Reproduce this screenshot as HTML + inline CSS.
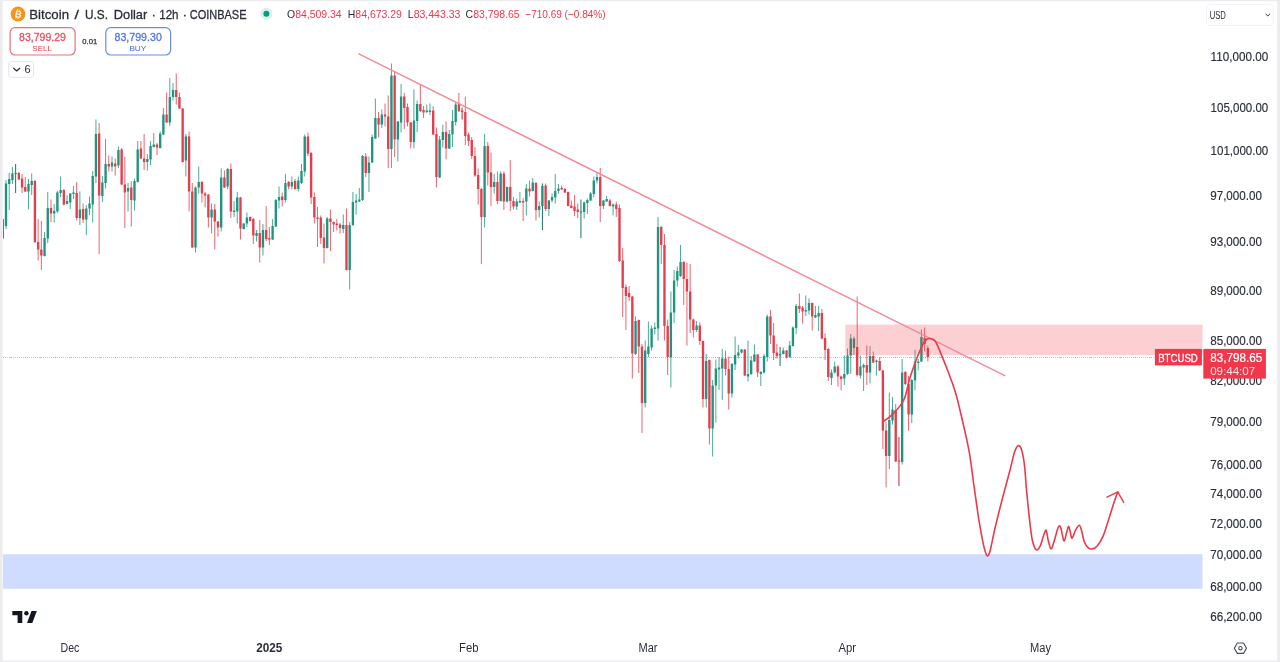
<!DOCTYPE html>
<html><head><meta charset="utf-8"><title>BTCUSD chart</title>
<style>
html,body{margin:0;padding:0;background:#fff;}
body{width:1280px;height:662px;overflow:hidden;position:relative;font-family:"Liberation Sans",sans-serif;}
svg{position:absolute;left:0;top:0;display:block}
text{font-family:"Liberation Sans",sans-serif;}
</style></head><body>
<svg width="1280" height="662" viewBox="0 0 1280 662">
<defs><clipPath id="pane"><rect x="3" y="0" width="1200" height="640"/></clipPath><filter id="nf" x="0" y="0" width="1280" height="662" filterUnits="userSpaceOnUse"><feOffset dx="0" dy="0"/></filter></defs>
<rect x="0" y="0" width="1280" height="662" fill="#ffffff"/>
<g filter="url(#nf)">
<!-- zones -->
<rect x="3" y="554.2" width="1199.5" height="34.6" fill="#d0dcfd"/>
<!-- price line -->
<line x1="3" y1="357.5" x2="1155" y2="357.5" stroke="#e0606e" stroke-width="1" stroke-dasharray="1 1" stroke-opacity="0.48"/>
<line x1="10" y1="357.5" x2="1155" y2="357.5" stroke="#b04050" stroke-width="1" stroke-dasharray="1.2 13.8" stroke-opacity="0.45"/>
<g clip-path="url(#pane)">
<g stroke-width="1">
<line x1="2.79" y1="219.0" x2="2.79" y2="238.5" stroke="#1f957f" stroke-opacity="0.8"/>
<line x1="6.00" y1="180.0" x2="6.00" y2="229.0" stroke="#1f957f" stroke-opacity="0.8"/>
<line x1="9.21" y1="173.0" x2="9.21" y2="210.0" stroke="#1f957f" stroke-opacity="0.8"/>
<line x1="12.42" y1="167.0" x2="12.42" y2="184.0" stroke="#1f957f" stroke-opacity="0.8"/>
<line x1="15.64" y1="164.0" x2="15.64" y2="193.0" stroke="#0b6b5b" stroke-opacity="0.95"/>
<line x1="18.85" y1="172.0" x2="18.85" y2="180.0" stroke="#e53d4d" stroke-opacity="0.8"/>
<line x1="22.06" y1="174.0" x2="22.06" y2="193.0" stroke="#e53d4d" stroke-opacity="0.8"/>
<line x1="25.27" y1="177.0" x2="25.27" y2="192.0" stroke="#e53d4d" stroke-opacity="0.8"/>
<line x1="28.48" y1="179.0" x2="28.48" y2="209.5" stroke="#1f957f" stroke-opacity="0.8"/>
<line x1="31.70" y1="173.5" x2="31.70" y2="195.0" stroke="#1f957f" stroke-opacity="0.8"/>
<line x1="34.91" y1="180.0" x2="34.91" y2="243.0" stroke="#e53d4d" stroke-opacity="0.8"/>
<line x1="38.12" y1="219.0" x2="38.12" y2="260.5" stroke="#e53d4d" stroke-opacity="0.8"/>
<line x1="41.33" y1="221.0" x2="41.33" y2="270.0" stroke="#e53d4d" stroke-opacity="0.8"/>
<line x1="44.54" y1="232.0" x2="44.54" y2="256.5" stroke="#1f957f" stroke-opacity="0.8"/>
<line x1="47.76" y1="192.0" x2="47.76" y2="243.0" stroke="#1f957f" stroke-opacity="0.8"/>
<line x1="50.97" y1="199.5" x2="50.97" y2="222.0" stroke="#e53d4d" stroke-opacity="0.8"/>
<line x1="54.18" y1="204.0" x2="54.18" y2="222.5" stroke="#1f957f" stroke-opacity="0.8"/>
<line x1="57.39" y1="191.0" x2="57.39" y2="213.0" stroke="#1f957f" stroke-opacity="0.8"/>
<line x1="60.60" y1="176.5" x2="60.60" y2="197.0" stroke="#1f957f" stroke-opacity="0.8"/>
<line x1="63.82" y1="189.0" x2="63.82" y2="205.5" stroke="#e53d4d" stroke-opacity="0.8"/>
<line x1="67.03" y1="195.0" x2="67.03" y2="204.5" stroke="#1f957f" stroke-opacity="0.8"/>
<line x1="70.24" y1="193.0" x2="70.24" y2="209.0" stroke="#1f957f" stroke-opacity="0.8"/>
<line x1="73.45" y1="186.0" x2="73.45" y2="199.0" stroke="#1f957f" stroke-opacity="0.8"/>
<line x1="76.66" y1="182.0" x2="76.66" y2="220.5" stroke="#e53d4d" stroke-opacity="0.8"/>
<line x1="79.88" y1="191.5" x2="79.88" y2="225.0" stroke="#1f957f" stroke-opacity="0.8"/>
<line x1="83.09" y1="203.5" x2="83.09" y2="223.0" stroke="#e53d4d" stroke-opacity="0.8"/>
<line x1="86.30" y1="205.0" x2="86.30" y2="235.0" stroke="#1f957f" stroke-opacity="0.8"/>
<line x1="89.51" y1="196.5" x2="89.51" y2="215.0" stroke="#1f957f" stroke-opacity="0.8"/>
<line x1="92.72" y1="171.0" x2="92.72" y2="222.5" stroke="#1f957f" stroke-opacity="0.8"/>
<line x1="95.94" y1="119.5" x2="95.94" y2="183.0" stroke="#1f957f" stroke-opacity="0.8"/>
<line x1="99.15" y1="123.0" x2="99.15" y2="254.0" stroke="#e53d4d" stroke-opacity="0.8"/>
<line x1="102.36" y1="176.0" x2="102.36" y2="202.0" stroke="#1f957f" stroke-opacity="0.8"/>
<line x1="105.57" y1="139.0" x2="105.57" y2="188.5" stroke="#1f957f" stroke-opacity="0.8"/>
<line x1="108.78" y1="155.5" x2="108.78" y2="171.5" stroke="#e53d4d" stroke-opacity="0.8"/>
<line x1="112.00" y1="156.5" x2="112.00" y2="171.5" stroke="#1f957f" stroke-opacity="0.8"/>
<line x1="115.21" y1="158.5" x2="115.21" y2="175.5" stroke="#e53d4d" stroke-opacity="0.8"/>
<line x1="118.42" y1="146.5" x2="118.42" y2="168.0" stroke="#1f957f" stroke-opacity="0.8"/>
<line x1="121.63" y1="148.0" x2="121.63" y2="185.0" stroke="#e53d4d" stroke-opacity="0.8"/>
<line x1="124.84" y1="157.0" x2="124.84" y2="228.0" stroke="#e53d4d" stroke-opacity="0.8"/>
<line x1="128.06" y1="183.0" x2="128.06" y2="211.5" stroke="#1f957f" stroke-opacity="0.8"/>
<line x1="131.27" y1="181.5" x2="131.27" y2="226.5" stroke="#e53d4d" stroke-opacity="0.8"/>
<line x1="134.48" y1="178.5" x2="134.48" y2="210.5" stroke="#1f957f" stroke-opacity="0.8"/>
<line x1="137.69" y1="141.0" x2="137.69" y2="182.5" stroke="#1f957f" stroke-opacity="0.8"/>
<line x1="140.90" y1="141.0" x2="140.90" y2="159.0" stroke="#e53d4d" stroke-opacity="0.8"/>
<line x1="144.12" y1="134.0" x2="144.12" y2="170.0" stroke="#e53d4d" stroke-opacity="0.8"/>
<line x1="147.33" y1="154.0" x2="147.33" y2="170.5" stroke="#1f957f" stroke-opacity="0.8"/>
<line x1="150.54" y1="141.0" x2="150.54" y2="165.0" stroke="#1f957f" stroke-opacity="0.8"/>
<line x1="153.75" y1="133.0" x2="153.75" y2="147.5" stroke="#1f957f" stroke-opacity="0.8"/>
<line x1="156.96" y1="143.0" x2="156.96" y2="155.0" stroke="#e53d4d" stroke-opacity="0.8"/>
<line x1="160.18" y1="131.5" x2="160.18" y2="148.5" stroke="#1f957f" stroke-opacity="0.8"/>
<line x1="163.39" y1="108.0" x2="163.39" y2="135.0" stroke="#1f957f" stroke-opacity="0.8"/>
<line x1="166.60" y1="92.5" x2="166.60" y2="123.0" stroke="#e53d4d" stroke-opacity="0.8"/>
<line x1="169.81" y1="78.0" x2="169.81" y2="126.0" stroke="#1f957f" stroke-opacity="0.8"/>
<line x1="173.02" y1="83.0" x2="173.02" y2="100.5" stroke="#1f957f" stroke-opacity="0.8"/>
<line x1="176.24" y1="73.5" x2="176.24" y2="104.5" stroke="#e53d4d" stroke-opacity="0.8"/>
<line x1="179.45" y1="92.5" x2="179.45" y2="109.0" stroke="#e53d4d" stroke-opacity="0.8"/>
<line x1="182.66" y1="108.0" x2="182.66" y2="162.5" stroke="#e53d4d" stroke-opacity="0.8"/>
<line x1="185.87" y1="134.0" x2="185.87" y2="176.5" stroke="#1f957f" stroke-opacity="0.8"/>
<line x1="189.08" y1="131.5" x2="189.08" y2="211.5" stroke="#e53d4d" stroke-opacity="0.8"/>
<line x1="192.30" y1="183.0" x2="192.30" y2="248.0" stroke="#e53d4d" stroke-opacity="0.8"/>
<line x1="195.51" y1="186.5" x2="195.51" y2="252.5" stroke="#1f957f" stroke-opacity="0.8"/>
<line x1="198.72" y1="166.5" x2="198.72" y2="193.5" stroke="#1f957f" stroke-opacity="0.8"/>
<line x1="201.93" y1="181.0" x2="201.93" y2="202.5" stroke="#e53d4d" stroke-opacity="0.8"/>
<line x1="205.14" y1="192.0" x2="205.14" y2="207.5" stroke="#e53d4d" stroke-opacity="0.8"/>
<line x1="208.36" y1="194.0" x2="208.36" y2="227.5" stroke="#e53d4d" stroke-opacity="0.8"/>
<line x1="211.57" y1="203.5" x2="211.57" y2="233.5" stroke="#1f957f" stroke-opacity="0.8"/>
<line x1="214.78" y1="204.0" x2="214.78" y2="249.5" stroke="#e53d4d" stroke-opacity="0.8"/>
<line x1="217.99" y1="221.0" x2="217.99" y2="236.5" stroke="#e53d4d" stroke-opacity="0.8"/>
<line x1="221.20" y1="168.5" x2="221.20" y2="231.5" stroke="#1f957f" stroke-opacity="0.8"/>
<line x1="224.42" y1="170.5" x2="224.42" y2="188.0" stroke="#e53d4d" stroke-opacity="0.8"/>
<line x1="227.63" y1="168.0" x2="227.63" y2="189.0" stroke="#1f957f" stroke-opacity="0.8"/>
<line x1="230.84" y1="163.5" x2="230.84" y2="218.0" stroke="#e53d4d" stroke-opacity="0.8"/>
<line x1="234.05" y1="201.0" x2="234.05" y2="217.0" stroke="#1f957f" stroke-opacity="0.8"/>
<line x1="237.26" y1="192.0" x2="237.26" y2="223.5" stroke="#1f957f" stroke-opacity="0.8"/>
<line x1="240.48" y1="197.0" x2="240.48" y2="239.5" stroke="#e53d4d" stroke-opacity="0.8"/>
<line x1="243.69" y1="223.0" x2="243.69" y2="229.5" stroke="#1f957f" stroke-opacity="0.8"/>
<line x1="246.90" y1="212.5" x2="246.90" y2="227.0" stroke="#1f957f" stroke-opacity="0.8"/>
<line x1="250.11" y1="216.5" x2="250.11" y2="221.5" stroke="#e53d4d" stroke-opacity="0.8"/>
<line x1="253.32" y1="218.0" x2="253.32" y2="244.0" stroke="#e53d4d" stroke-opacity="0.8"/>
<line x1="256.54" y1="230.0" x2="256.54" y2="241.5" stroke="#1f957f" stroke-opacity="0.8"/>
<line x1="259.75" y1="220.0" x2="259.75" y2="262.5" stroke="#e53d4d" stroke-opacity="0.8"/>
<line x1="262.96" y1="224.0" x2="262.96" y2="255.5" stroke="#1f957f" stroke-opacity="0.8"/>
<line x1="266.17" y1="206.0" x2="266.17" y2="241.0" stroke="#e53d4d" stroke-opacity="0.8"/>
<line x1="269.38" y1="227.0" x2="269.38" y2="245.0" stroke="#e53d4d" stroke-opacity="0.8"/>
<line x1="272.60" y1="219.0" x2="272.60" y2="240.0" stroke="#1f957f" stroke-opacity="0.8"/>
<line x1="275.81" y1="199.0" x2="275.81" y2="227.0" stroke="#1f957f" stroke-opacity="0.8"/>
<line x1="279.02" y1="186.5" x2="279.02" y2="208.5" stroke="#1f957f" stroke-opacity="0.8"/>
<line x1="282.23" y1="192.5" x2="282.23" y2="206.5" stroke="#e53d4d" stroke-opacity="0.8"/>
<line x1="285.44" y1="174.0" x2="285.44" y2="202.5" stroke="#1f957f" stroke-opacity="0.8"/>
<line x1="288.66" y1="181.0" x2="288.66" y2="189.5" stroke="#e53d4d" stroke-opacity="0.8"/>
<line x1="291.87" y1="176.5" x2="291.87" y2="189.5" stroke="#1f957f" stroke-opacity="0.8"/>
<line x1="295.08" y1="179.0" x2="295.08" y2="189.5" stroke="#e53d4d" stroke-opacity="0.8"/>
<line x1="298.29" y1="176.5" x2="298.29" y2="191.5" stroke="#1f957f" stroke-opacity="0.8"/>
<line x1="301.50" y1="164.0" x2="301.50" y2="184.0" stroke="#1f957f" stroke-opacity="0.8"/>
<line x1="304.72" y1="134.5" x2="304.72" y2="176.5" stroke="#1f957f" stroke-opacity="0.8"/>
<line x1="307.93" y1="132.5" x2="307.93" y2="156.0" stroke="#e53d4d" stroke-opacity="0.8"/>
<line x1="311.14" y1="152.0" x2="311.14" y2="204.0" stroke="#e53d4d" stroke-opacity="0.8"/>
<line x1="314.35" y1="192.5" x2="314.35" y2="223.5" stroke="#e53d4d" stroke-opacity="0.8"/>
<line x1="317.56" y1="207.0" x2="317.56" y2="247.0" stroke="#e53d4d" stroke-opacity="0.8"/>
<line x1="320.78" y1="215.5" x2="320.78" y2="244.0" stroke="#e53d4d" stroke-opacity="0.8"/>
<line x1="323.99" y1="223.5" x2="323.99" y2="263.5" stroke="#e53d4d" stroke-opacity="0.8"/>
<line x1="327.20" y1="217.0" x2="327.20" y2="248.5" stroke="#1f957f" stroke-opacity="0.8"/>
<line x1="330.41" y1="209.5" x2="330.41" y2="251.0" stroke="#e53d4d" stroke-opacity="0.8"/>
<line x1="333.62" y1="221.5" x2="333.62" y2="232.0" stroke="#e53d4d" stroke-opacity="0.8"/>
<line x1="336.84" y1="219.0" x2="336.84" y2="230.5" stroke="#e53d4d" stroke-opacity="0.8"/>
<line x1="340.05" y1="223.0" x2="340.05" y2="233.5" stroke="#e53d4d" stroke-opacity="0.8"/>
<line x1="343.26" y1="214.5" x2="343.26" y2="233.0" stroke="#1f957f" stroke-opacity="0.8"/>
<line x1="346.47" y1="208.5" x2="346.47" y2="270.5" stroke="#e53d4d" stroke-opacity="0.8"/>
<line x1="349.68" y1="222.0" x2="349.68" y2="289.5" stroke="#1f957f" stroke-opacity="0.8"/>
<line x1="352.90" y1="192.0" x2="352.90" y2="226.0" stroke="#1f957f" stroke-opacity="0.8"/>
<line x1="356.11" y1="194.0" x2="356.11" y2="214.5" stroke="#1f957f" stroke-opacity="0.8"/>
<line x1="359.32" y1="188.0" x2="359.32" y2="202.0" stroke="#1f957f" stroke-opacity="0.8"/>
<line x1="362.53" y1="155.0" x2="362.53" y2="201.0" stroke="#1f957f" stroke-opacity="0.8"/>
<line x1="365.74" y1="153.0" x2="365.74" y2="177.0" stroke="#e53d4d" stroke-opacity="0.8"/>
<line x1="368.96" y1="156.5" x2="368.96" y2="192.0" stroke="#1f957f" stroke-opacity="0.8"/>
<line x1="372.17" y1="134.5" x2="372.17" y2="163.0" stroke="#1f957f" stroke-opacity="0.8"/>
<line x1="375.38" y1="98.5" x2="375.38" y2="139.0" stroke="#1f957f" stroke-opacity="0.8"/>
<line x1="378.59" y1="112.0" x2="378.59" y2="137.5" stroke="#e53d4d" stroke-opacity="0.8"/>
<line x1="381.80" y1="109.5" x2="381.80" y2="128.0" stroke="#1f957f" stroke-opacity="0.8"/>
<line x1="385.02" y1="103.5" x2="385.02" y2="126.5" stroke="#e53d4d" stroke-opacity="0.8"/>
<line x1="388.23" y1="95.5" x2="388.23" y2="168.0" stroke="#e53d4d" stroke-opacity="0.8"/>
<line x1="391.44" y1="63.5" x2="391.44" y2="168.0" stroke="#1f957f" stroke-opacity="0.8"/>
<line x1="394.65" y1="72.0" x2="394.65" y2="157.0" stroke="#e53d4d" stroke-opacity="0.8"/>
<line x1="397.86" y1="121.0" x2="397.86" y2="161.5" stroke="#1f957f" stroke-opacity="0.8"/>
<line x1="401.08" y1="84.0" x2="401.08" y2="132.5" stroke="#1f957f" stroke-opacity="0.8"/>
<line x1="404.29" y1="93.0" x2="404.29" y2="129.0" stroke="#e53d4d" stroke-opacity="0.8"/>
<line x1="407.50" y1="103.5" x2="407.50" y2="126.5" stroke="#e53d4d" stroke-opacity="0.8"/>
<line x1="410.71" y1="122.0" x2="410.71" y2="148.5" stroke="#e53d4d" stroke-opacity="0.8"/>
<line x1="413.92" y1="89.5" x2="413.92" y2="148.5" stroke="#1f957f" stroke-opacity="0.8"/>
<line x1="417.14" y1="100.5" x2="417.14" y2="132.0" stroke="#1f957f" stroke-opacity="0.8"/>
<line x1="420.35" y1="84.5" x2="420.35" y2="112.0" stroke="#e53d4d" stroke-opacity="0.8"/>
<line x1="423.56" y1="106.0" x2="423.56" y2="118.0" stroke="#e53d4d" stroke-opacity="0.8"/>
<line x1="426.77" y1="104.5" x2="426.77" y2="113.0" stroke="#1f957f" stroke-opacity="0.8"/>
<line x1="429.98" y1="103.5" x2="429.98" y2="115.0" stroke="#1f957f" stroke-opacity="0.8"/>
<line x1="433.20" y1="106.0" x2="433.20" y2="135.0" stroke="#e53d4d" stroke-opacity="0.8"/>
<line x1="436.41" y1="127.5" x2="436.41" y2="187.5" stroke="#e53d4d" stroke-opacity="0.8"/>
<line x1="439.62" y1="136.0" x2="439.62" y2="178.0" stroke="#1f957f" stroke-opacity="0.8"/>
<line x1="442.83" y1="125.0" x2="442.83" y2="147.5" stroke="#1f957f" stroke-opacity="0.8"/>
<line x1="446.04" y1="121.5" x2="446.04" y2="159.5" stroke="#e53d4d" stroke-opacity="0.8"/>
<line x1="449.26" y1="130.0" x2="449.26" y2="149.0" stroke="#1f957f" stroke-opacity="0.8"/>
<line x1="452.47" y1="110.0" x2="452.47" y2="147.0" stroke="#1f957f" stroke-opacity="0.8"/>
<line x1="455.68" y1="102.0" x2="455.68" y2="125.5" stroke="#1f957f" stroke-opacity="0.8"/>
<line x1="458.89" y1="93.0" x2="458.89" y2="112.0" stroke="#e53d4d" stroke-opacity="0.8"/>
<line x1="462.10" y1="107.5" x2="462.10" y2="119.5" stroke="#b8202f" stroke-opacity="0.95"/>
<line x1="465.32" y1="96.5" x2="465.32" y2="145.0" stroke="#e53d4d" stroke-opacity="0.8"/>
<line x1="468.53" y1="132.5" x2="468.53" y2="146.0" stroke="#e53d4d" stroke-opacity="0.8"/>
<line x1="471.74" y1="137.0" x2="471.74" y2="159.0" stroke="#e53d4d" stroke-opacity="0.8"/>
<line x1="474.95" y1="147.0" x2="474.95" y2="177.0" stroke="#e53d4d" stroke-opacity="0.8"/>
<line x1="478.16" y1="168.5" x2="478.16" y2="204.5" stroke="#e53d4d" stroke-opacity="0.8"/>
<line x1="481.38" y1="188.0" x2="481.38" y2="264.0" stroke="#e53d4d" stroke-opacity="0.8"/>
<line x1="484.59" y1="134.0" x2="484.59" y2="227.5" stroke="#1f957f" stroke-opacity="0.8"/>
<line x1="487.80" y1="142.0" x2="487.80" y2="185.5" stroke="#e53d4d" stroke-opacity="0.8"/>
<line x1="491.01" y1="152.5" x2="491.01" y2="206.0" stroke="#e53d4d" stroke-opacity="0.8"/>
<line x1="494.22" y1="174.0" x2="494.22" y2="193.5" stroke="#1f957f" stroke-opacity="0.8"/>
<line x1="497.44" y1="171.5" x2="497.44" y2="204.0" stroke="#e53d4d" stroke-opacity="0.8"/>
<line x1="500.65" y1="171.5" x2="500.65" y2="201.5" stroke="#1f957f" stroke-opacity="0.8"/>
<line x1="503.86" y1="171.5" x2="503.86" y2="210.0" stroke="#e53d4d" stroke-opacity="0.8"/>
<line x1="507.07" y1="186.5" x2="507.07" y2="202.5" stroke="#1f957f" stroke-opacity="0.8"/>
<line x1="510.28" y1="160.0" x2="510.28" y2="211.0" stroke="#e53d4d" stroke-opacity="0.8"/>
<line x1="513.50" y1="197.0" x2="513.50" y2="209.5" stroke="#e53d4d" stroke-opacity="0.8"/>
<line x1="516.71" y1="198.5" x2="516.71" y2="210.0" stroke="#1f957f" stroke-opacity="0.8"/>
<line x1="519.92" y1="192.0" x2="519.92" y2="203.0" stroke="#1f957f" stroke-opacity="0.8"/>
<line x1="523.13" y1="198.0" x2="523.13" y2="221.0" stroke="#e53d4d" stroke-opacity="0.8"/>
<line x1="526.34" y1="184.0" x2="526.34" y2="215.5" stroke="#1f957f" stroke-opacity="0.8"/>
<line x1="529.56" y1="180.5" x2="529.56" y2="196.5" stroke="#e53d4d" stroke-opacity="0.8"/>
<line x1="532.77" y1="178.0" x2="532.77" y2="191.5" stroke="#1f957f" stroke-opacity="0.8"/>
<line x1="535.98" y1="182.0" x2="535.98" y2="220.5" stroke="#e53d4d" stroke-opacity="0.8"/>
<line x1="539.19" y1="201.5" x2="539.19" y2="217.5" stroke="#1f957f" stroke-opacity="0.8"/>
<line x1="542.40" y1="183.5" x2="542.40" y2="230.0" stroke="#0b6b5b" stroke-opacity="0.95"/>
<line x1="545.62" y1="183.5" x2="545.62" y2="211.0" stroke="#e53d4d" stroke-opacity="0.8"/>
<line x1="548.83" y1="200.0" x2="548.83" y2="216.0" stroke="#1f957f" stroke-opacity="0.8"/>
<line x1="552.04" y1="193.5" x2="552.04" y2="202.5" stroke="#1f957f" stroke-opacity="0.8"/>
<line x1="555.25" y1="174.0" x2="555.25" y2="203.5" stroke="#1f957f" stroke-opacity="0.8"/>
<line x1="558.46" y1="184.0" x2="558.46" y2="193.5" stroke="#1f957f" stroke-opacity="0.8"/>
<line x1="561.68" y1="185.5" x2="561.68" y2="190.0" stroke="#e53d4d" stroke-opacity="0.8"/>
<line x1="564.89" y1="188.0" x2="564.89" y2="193.0" stroke="#e53d4d" stroke-opacity="0.8"/>
<line x1="568.10" y1="191.5" x2="568.10" y2="206.5" stroke="#e53d4d" stroke-opacity="0.8"/>
<line x1="571.31" y1="200.5" x2="571.31" y2="208.5" stroke="#e53d4d" stroke-opacity="0.8"/>
<line x1="574.52" y1="195.0" x2="574.52" y2="216.0" stroke="#e53d4d" stroke-opacity="0.8"/>
<line x1="577.74" y1="203.5" x2="577.74" y2="218.0" stroke="#e53d4d" stroke-opacity="0.8"/>
<line x1="580.95" y1="199.5" x2="580.95" y2="238.0" stroke="#0b6b5b" stroke-opacity="0.95"/>
<line x1="584.16" y1="201.5" x2="584.16" y2="218.5" stroke="#1f957f" stroke-opacity="0.8"/>
<line x1="587.37" y1="198.5" x2="587.37" y2="214.0" stroke="#1f957f" stroke-opacity="0.8"/>
<line x1="590.58" y1="192.0" x2="590.58" y2="201.0" stroke="#1f957f" stroke-opacity="0.8"/>
<line x1="593.80" y1="176.5" x2="593.80" y2="197.5" stroke="#1f957f" stroke-opacity="0.8"/>
<line x1="597.01" y1="172.5" x2="597.01" y2="183.5" stroke="#1f957f" stroke-opacity="0.8"/>
<line x1="600.22" y1="168.0" x2="600.22" y2="222.0" stroke="#e53d4d" stroke-opacity="0.8"/>
<line x1="603.43" y1="200.0" x2="603.43" y2="209.0" stroke="#1f957f" stroke-opacity="0.8"/>
<line x1="606.64" y1="196.0" x2="606.64" y2="202.0" stroke="#1f957f" stroke-opacity="0.8"/>
<line x1="609.86" y1="199.0" x2="609.86" y2="206.5" stroke="#e53d4d" stroke-opacity="0.8"/>
<line x1="613.07" y1="203.5" x2="613.07" y2="215.5" stroke="#1f957f" stroke-opacity="0.8"/>
<line x1="616.28" y1="201.5" x2="616.28" y2="217.0" stroke="#e53d4d" stroke-opacity="0.8"/>
<line x1="619.49" y1="204.5" x2="619.49" y2="262.0" stroke="#e53d4d" stroke-opacity="0.8"/>
<line x1="622.70" y1="248.0" x2="622.70" y2="317.0" stroke="#e53d4d" stroke-opacity="0.8"/>
<line x1="625.92" y1="284.5" x2="625.92" y2="330.0" stroke="#e53d4d" stroke-opacity="0.8"/>
<line x1="629.13" y1="286.0" x2="629.13" y2="301.0" stroke="#e53d4d" stroke-opacity="0.8"/>
<line x1="632.34" y1="296.0" x2="632.34" y2="378.5" stroke="#e53d4d" stroke-opacity="0.8"/>
<line x1="635.55" y1="316.5" x2="635.55" y2="355.0" stroke="#1f957f" stroke-opacity="0.8"/>
<line x1="638.76" y1="319.5" x2="638.76" y2="373.0" stroke="#e53d4d" stroke-opacity="0.8"/>
<line x1="641.98" y1="344.0" x2="641.98" y2="433.0" stroke="#e53d4d" stroke-opacity="0.8"/>
<line x1="645.19" y1="340.5" x2="645.19" y2="407.5" stroke="#1f957f" stroke-opacity="0.8"/>
<line x1="648.40" y1="321.5" x2="648.40" y2="357.0" stroke="#1f957f" stroke-opacity="0.8"/>
<line x1="651.61" y1="325.5" x2="651.61" y2="350.5" stroke="#1f957f" stroke-opacity="0.8"/>
<line x1="654.82" y1="322.5" x2="654.82" y2="334.5" stroke="#1f957f" stroke-opacity="0.8"/>
<line x1="658.04" y1="217.0" x2="658.04" y2="340.5" stroke="#1f957f" stroke-opacity="0.8"/>
<line x1="661.25" y1="226.0" x2="661.25" y2="264.0" stroke="#e53d4d" stroke-opacity="0.8"/>
<line x1="664.46" y1="234.0" x2="664.46" y2="340.5" stroke="#e53d4d" stroke-opacity="0.8"/>
<line x1="667.67" y1="319.5" x2="667.67" y2="375.0" stroke="#e53d4d" stroke-opacity="0.8"/>
<line x1="670.88" y1="291.5" x2="670.88" y2="387.5" stroke="#1f957f" stroke-opacity="0.8"/>
<line x1="674.10" y1="270.0" x2="674.10" y2="323.0" stroke="#1f957f" stroke-opacity="0.8"/>
<line x1="677.31" y1="266.5" x2="677.31" y2="286.5" stroke="#1f957f" stroke-opacity="0.8"/>
<line x1="680.52" y1="245.0" x2="680.52" y2="277.0" stroke="#1f957f" stroke-opacity="0.8"/>
<line x1="683.73" y1="261.0" x2="683.73" y2="305.0" stroke="#e53d4d" stroke-opacity="0.8"/>
<line x1="686.94" y1="262.5" x2="686.94" y2="345.5" stroke="#e53d4d" stroke-opacity="0.8"/>
<line x1="690.16" y1="264.0" x2="690.16" y2="333.0" stroke="#e53d4d" stroke-opacity="0.8"/>
<line x1="693.37" y1="318.5" x2="693.37" y2="337.5" stroke="#e53d4d" stroke-opacity="0.8"/>
<line x1="696.58" y1="321.0" x2="696.58" y2="332.0" stroke="#1f957f" stroke-opacity="0.8"/>
<line x1="699.79" y1="322.5" x2="699.79" y2="345.0" stroke="#e53d4d" stroke-opacity="0.8"/>
<line x1="703.00" y1="340.5" x2="703.00" y2="407.5" stroke="#e53d4d" stroke-opacity="0.8"/>
<line x1="706.22" y1="354.0" x2="706.22" y2="407.5" stroke="#1f957f" stroke-opacity="0.8"/>
<line x1="709.43" y1="359.5" x2="709.43" y2="444.5" stroke="#e53d4d" stroke-opacity="0.8"/>
<line x1="712.64" y1="380.0" x2="712.64" y2="456.5" stroke="#1f957f" stroke-opacity="0.8"/>
<line x1="715.85" y1="359.5" x2="715.85" y2="422.5" stroke="#1f957f" stroke-opacity="0.8"/>
<line x1="719.06" y1="357.0" x2="719.06" y2="390.0" stroke="#1f957f" stroke-opacity="0.8"/>
<line x1="722.28" y1="349.0" x2="722.28" y2="400.0" stroke="#1f957f" stroke-opacity="0.8"/>
<line x1="725.49" y1="350.5" x2="725.49" y2="375.5" stroke="#e53d4d" stroke-opacity="0.8"/>
<line x1="728.70" y1="356.5" x2="728.70" y2="409.5" stroke="#e53d4d" stroke-opacity="0.8"/>
<line x1="731.91" y1="363.0" x2="731.91" y2="397.5" stroke="#1f957f" stroke-opacity="0.8"/>
<line x1="735.12" y1="336.5" x2="735.12" y2="370.0" stroke="#1f957f" stroke-opacity="0.8"/>
<line x1="738.34" y1="345.0" x2="738.34" y2="358.5" stroke="#1f957f" stroke-opacity="0.8"/>
<line x1="741.55" y1="349.0" x2="741.55" y2="353.5" stroke="#1f957f" stroke-opacity="0.8"/>
<line x1="744.76" y1="349.0" x2="744.76" y2="376.0" stroke="#e53d4d" stroke-opacity="0.8"/>
<line x1="747.97" y1="340.5" x2="747.97" y2="381.5" stroke="#1f957f" stroke-opacity="0.8"/>
<line x1="751.18" y1="356.0" x2="751.18" y2="375.0" stroke="#1f957f" stroke-opacity="0.8"/>
<line x1="754.40" y1="344.5" x2="754.40" y2="362.0" stroke="#1f957f" stroke-opacity="0.8"/>
<line x1="757.61" y1="354.0" x2="757.61" y2="377.0" stroke="#e53d4d" stroke-opacity="0.8"/>
<line x1="760.82" y1="371.0" x2="760.82" y2="386.0" stroke="#1f957f" stroke-opacity="0.8"/>
<line x1="764.03" y1="354.0" x2="764.03" y2="373.5" stroke="#1f957f" stroke-opacity="0.8"/>
<line x1="767.24" y1="314.5" x2="767.24" y2="361.5" stroke="#1f957f" stroke-opacity="0.8"/>
<line x1="770.46" y1="310.0" x2="770.46" y2="344.0" stroke="#e53d4d" stroke-opacity="0.8"/>
<line x1="773.67" y1="323.0" x2="773.67" y2="360.0" stroke="#e53d4d" stroke-opacity="0.8"/>
<line x1="776.88" y1="344.0" x2="776.88" y2="358.5" stroke="#e53d4d" stroke-opacity="0.8"/>
<line x1="780.09" y1="347.0" x2="780.09" y2="366.0" stroke="#0b6b5b" stroke-opacity="0.95"/>
<line x1="783.30" y1="347.5" x2="783.30" y2="354.5" stroke="#1f957f" stroke-opacity="0.8"/>
<line x1="786.52" y1="350.0" x2="786.52" y2="358.5" stroke="#e53d4d" stroke-opacity="0.8"/>
<line x1="789.73" y1="341.0" x2="789.73" y2="357.5" stroke="#1f957f" stroke-opacity="0.8"/>
<line x1="792.94" y1="326.5" x2="792.94" y2="346.5" stroke="#1f957f" stroke-opacity="0.8"/>
<line x1="796.15" y1="304.0" x2="796.15" y2="334.0" stroke="#1f957f" stroke-opacity="0.8"/>
<line x1="799.36" y1="293.5" x2="799.36" y2="313.0" stroke="#e53d4d" stroke-opacity="0.8"/>
<line x1="802.58" y1="306.0" x2="802.58" y2="323.5" stroke="#e53d4d" stroke-opacity="0.8"/>
<line x1="805.79" y1="295.5" x2="805.79" y2="316.0" stroke="#1f957f" stroke-opacity="0.8"/>
<line x1="809.00" y1="298.5" x2="809.00" y2="314.5" stroke="#1f957f" stroke-opacity="0.8"/>
<line x1="812.21" y1="302.5" x2="812.21" y2="330.5" stroke="#e53d4d" stroke-opacity="0.8"/>
<line x1="815.42" y1="306.0" x2="815.42" y2="318.0" stroke="#1f957f" stroke-opacity="0.8"/>
<line x1="818.64" y1="306.0" x2="818.64" y2="331.0" stroke="#1f957f" stroke-opacity="0.8"/>
<line x1="821.85" y1="309.0" x2="821.85" y2="339.5" stroke="#e53d4d" stroke-opacity="0.8"/>
<line x1="825.06" y1="333.5" x2="825.06" y2="360.0" stroke="#e53d4d" stroke-opacity="0.8"/>
<line x1="828.27" y1="348.0" x2="828.27" y2="381.0" stroke="#e53d4d" stroke-opacity="0.8"/>
<line x1="831.48" y1="369.5" x2="831.48" y2="385.0" stroke="#1f957f" stroke-opacity="0.8"/>
<line x1="834.70" y1="361.5" x2="834.70" y2="373.5" stroke="#1f957f" stroke-opacity="0.8"/>
<line x1="837.91" y1="365.0" x2="837.91" y2="386.5" stroke="#e53d4d" stroke-opacity="0.8"/>
<line x1="841.12" y1="375.5" x2="841.12" y2="390.5" stroke="#e53d4d" stroke-opacity="0.8"/>
<line x1="844.33" y1="355.5" x2="844.33" y2="385.0" stroke="#1f957f" stroke-opacity="0.8"/>
<line x1="847.54" y1="348.5" x2="847.54" y2="375.0" stroke="#1f957f" stroke-opacity="0.8"/>
<line x1="850.76" y1="334.0" x2="850.76" y2="374.0" stroke="#1f957f" stroke-opacity="0.8"/>
<line x1="853.97" y1="336.5" x2="853.97" y2="355.0" stroke="#1f957f" stroke-opacity="0.8"/>
<line x1="857.18" y1="296.5" x2="857.18" y2="376.5" stroke="#e53d4d" stroke-opacity="0.8"/>
<line x1="860.39" y1="355.5" x2="860.39" y2="378.5" stroke="#1f957f" stroke-opacity="0.8"/>
<line x1="863.60" y1="363.5" x2="863.60" y2="391.0" stroke="#1f957f" stroke-opacity="0.8"/>
<line x1="866.82" y1="345.5" x2="866.82" y2="385.0" stroke="#e53d4d" stroke-opacity="0.8"/>
<line x1="870.03" y1="346.0" x2="870.03" y2="383.5" stroke="#1f957f" stroke-opacity="0.8"/>
<line x1="873.24" y1="351.5" x2="873.24" y2="363.0" stroke="#e53d4d" stroke-opacity="0.8"/>
<line x1="876.45" y1="359.5" x2="876.45" y2="375.5" stroke="#1f957f" stroke-opacity="0.8"/>
<line x1="879.66" y1="357.5" x2="879.66" y2="371.0" stroke="#e53d4d" stroke-opacity="0.8"/>
<line x1="882.88" y1="369.5" x2="882.88" y2="449.0" stroke="#e53d4d" stroke-opacity="0.8"/>
<line x1="886.09" y1="422.0" x2="886.09" y2="487.5" stroke="#e53d4d" stroke-opacity="0.8"/>
<line x1="889.30" y1="392.5" x2="889.30" y2="469.0" stroke="#1f957f" stroke-opacity="0.8"/>
<line x1="892.51" y1="397.0" x2="892.51" y2="424.5" stroke="#1f957f" stroke-opacity="0.8"/>
<line x1="895.72" y1="404.0" x2="895.72" y2="462.0" stroke="#e53d4d" stroke-opacity="0.8"/>
<line x1="898.94" y1="437.0" x2="898.94" y2="486.0" stroke="#b8202f" stroke-opacity="0.95"/>
<line x1="902.15" y1="359.0" x2="902.15" y2="464.5" stroke="#1f957f" stroke-opacity="0.8"/>
<line x1="905.36" y1="371.0" x2="905.36" y2="385.0" stroke="#e53d4d" stroke-opacity="0.8"/>
<line x1="908.57" y1="376.0" x2="908.57" y2="430.5" stroke="#e53d4d" stroke-opacity="0.8"/>
<line x1="911.78" y1="379.0" x2="911.78" y2="423.0" stroke="#1f957f" stroke-opacity="0.8"/>
<line x1="915.00" y1="350.0" x2="915.00" y2="390.5" stroke="#1f957f" stroke-opacity="0.8"/>
<line x1="918.21" y1="359.0" x2="918.21" y2="370.5" stroke="#1f957f" stroke-opacity="0.8"/>
<line x1="921.42" y1="329.5" x2="921.42" y2="362.0" stroke="#1f957f" stroke-opacity="0.8"/>
<line x1="924.63" y1="327.5" x2="924.63" y2="351.5" stroke="#e53d4d" stroke-opacity="0.8"/>
<line x1="927.84" y1="345.5" x2="927.84" y2="361.5" stroke="#e53d4d" stroke-opacity="0.8"/>
</g>
<g>
<rect x="1.61" y="219.0" width="2.36" height="19.5" fill="#1f957f"/>
<rect x="4.82" y="183.5" width="2.36" height="42.5" fill="#1f957f"/>
<rect x="8.03" y="179.0" width="2.36" height="5.0" fill="#1f957f"/>
<rect x="11.24" y="173.5" width="2.36" height="6.5" fill="#1f957f"/>
<rect x="14.46" y="172.9" width="2.36" height="1.2" fill="#1f957f"/>
<rect x="17.67" y="173.0" width="2.36" height="6.5" fill="#e53d4d"/>
<rect x="20.88" y="178.5" width="2.36" height="9.0" fill="#e53d4d"/>
<rect x="24.09" y="187.0" width="2.36" height="4.5" fill="#e53d4d"/>
<rect x="27.30" y="184.0" width="2.36" height="7.5" fill="#1f957f"/>
<rect x="30.52" y="181.0" width="2.36" height="4.0" fill="#1f957f"/>
<rect x="33.73" y="181.0" width="2.36" height="61.0" fill="#e53d4d"/>
<rect x="36.94" y="242.0" width="2.36" height="7.5" fill="#e53d4d"/>
<rect x="40.15" y="249.5" width="2.36" height="6.0" fill="#e53d4d"/>
<rect x="43.36" y="238.0" width="2.36" height="18.0" fill="#1f957f"/>
<rect x="46.58" y="208.0" width="2.36" height="30.5" fill="#1f957f"/>
<rect x="49.79" y="208.0" width="2.36" height="5.5" fill="#e53d4d"/>
<rect x="53.00" y="211.0" width="2.36" height="2.5" fill="#1f957f"/>
<rect x="56.21" y="192.5" width="2.36" height="19.0" fill="#1f957f"/>
<rect x="59.42" y="190.0" width="2.36" height="3.0" fill="#1f957f"/>
<rect x="62.64" y="190.0" width="2.36" height="14.5" fill="#e53d4d"/>
<rect x="65.85" y="201.0" width="2.36" height="3.0" fill="#1f957f"/>
<rect x="69.06" y="193.5" width="2.36" height="9.0" fill="#1f957f"/>
<rect x="72.27" y="192.5" width="2.36" height="1.5" fill="#1f957f"/>
<rect x="75.48" y="193.0" width="2.36" height="25.0" fill="#e53d4d"/>
<rect x="78.70" y="209.5" width="2.36" height="8.5" fill="#1f957f"/>
<rect x="81.91" y="209.0" width="2.36" height="10.5" fill="#e53d4d"/>
<rect x="85.12" y="208.5" width="2.36" height="11.0" fill="#1f957f"/>
<rect x="88.33" y="203.5" width="2.36" height="5.0" fill="#1f957f"/>
<rect x="91.54" y="176.0" width="2.36" height="28.5" fill="#1f957f"/>
<rect x="94.76" y="134.0" width="2.36" height="42.5" fill="#1f957f"/>
<rect x="97.97" y="133.5" width="2.36" height="62.0" fill="#e53d4d"/>
<rect x="101.18" y="182.5" width="2.36" height="13.5" fill="#1f957f"/>
<rect x="104.39" y="164.0" width="2.36" height="19.0" fill="#1f957f"/>
<rect x="107.60" y="164.0" width="2.36" height="2.5" fill="#e53d4d"/>
<rect x="110.82" y="162.5" width="2.36" height="4.0" fill="#1f957f"/>
<rect x="114.03" y="163.5" width="2.36" height="3.0" fill="#e53d4d"/>
<rect x="117.24" y="150.0" width="2.36" height="15.5" fill="#1f957f"/>
<rect x="120.45" y="149.5" width="2.36" height="35.0" fill="#e53d4d"/>
<rect x="123.66" y="184.5" width="2.36" height="8.0" fill="#e53d4d"/>
<rect x="126.88" y="188.0" width="2.36" height="3.5" fill="#1f957f"/>
<rect x="130.09" y="187.5" width="2.36" height="12.5" fill="#e53d4d"/>
<rect x="133.30" y="181.0" width="2.36" height="19.5" fill="#1f957f"/>
<rect x="136.51" y="149.5" width="2.36" height="32.5" fill="#1f957f"/>
<rect x="139.72" y="148.5" width="2.36" height="10.0" fill="#e53d4d"/>
<rect x="142.94" y="158.5" width="2.36" height="3.5" fill="#e53d4d"/>
<rect x="146.15" y="159.0" width="2.36" height="3.0" fill="#1f957f"/>
<rect x="149.36" y="146.0" width="2.36" height="13.5" fill="#1f957f"/>
<rect x="152.57" y="144.5" width="2.36" height="2.5" fill="#1f957f"/>
<rect x="155.78" y="144.5" width="2.36" height="3.0" fill="#e53d4d"/>
<rect x="159.00" y="133.5" width="2.36" height="14.5" fill="#1f957f"/>
<rect x="162.21" y="114.5" width="2.36" height="20.0" fill="#1f957f"/>
<rect x="165.42" y="114.5" width="2.36" height="8.0" fill="#e53d4d"/>
<rect x="168.63" y="97.0" width="2.36" height="25.5" fill="#1f957f"/>
<rect x="171.84" y="90.0" width="2.36" height="7.0" fill="#1f957f"/>
<rect x="175.06" y="90.0" width="2.36" height="7.0" fill="#e53d4d"/>
<rect x="178.27" y="97.0" width="2.36" height="11.5" fill="#e53d4d"/>
<rect x="181.48" y="108.5" width="2.36" height="53.5" fill="#e53d4d"/>
<rect x="184.69" y="136.5" width="2.36" height="24.0" fill="#1f957f"/>
<rect x="187.90" y="136.5" width="2.36" height="55.0" fill="#e53d4d"/>
<rect x="191.12" y="191.5" width="2.36" height="56.0" fill="#e53d4d"/>
<rect x="194.33" y="187.5" width="2.36" height="60.0" fill="#1f957f"/>
<rect x="197.54" y="182.0" width="2.36" height="5.5" fill="#1f957f"/>
<rect x="200.75" y="182.0" width="2.36" height="11.5" fill="#e53d4d"/>
<rect x="203.96" y="193.5" width="2.36" height="2.0" fill="#e53d4d"/>
<rect x="207.18" y="194.5" width="2.36" height="23.0" fill="#e53d4d"/>
<rect x="210.39" y="209.5" width="2.36" height="8.0" fill="#1f957f"/>
<rect x="213.60" y="209.5" width="2.36" height="12.0" fill="#e53d4d"/>
<rect x="216.81" y="221.5" width="2.36" height="6.0" fill="#e53d4d"/>
<rect x="220.02" y="177.5" width="2.36" height="50.0" fill="#1f957f"/>
<rect x="223.24" y="177.5" width="2.36" height="10.0" fill="#e53d4d"/>
<rect x="226.45" y="169.0" width="2.36" height="17.5" fill="#1f957f"/>
<rect x="229.66" y="169.0" width="2.36" height="42.5" fill="#e53d4d"/>
<rect x="232.87" y="210.5" width="2.36" height="1.5" fill="#1f957f"/>
<rect x="236.08" y="197.5" width="2.36" height="14.0" fill="#1f957f"/>
<rect x="239.30" y="197.5" width="2.36" height="31.0" fill="#e53d4d"/>
<rect x="242.51" y="223.5" width="2.36" height="5.5" fill="#1f957f"/>
<rect x="245.72" y="217.5" width="2.36" height="6.0" fill="#1f957f"/>
<rect x="248.93" y="217.0" width="2.36" height="4.0" fill="#e53d4d"/>
<rect x="252.14" y="219.0" width="2.36" height="16.5" fill="#e53d4d"/>
<rect x="255.36" y="233.0" width="2.36" height="3.0" fill="#1f957f"/>
<rect x="258.57" y="233.0" width="2.36" height="14.5" fill="#e53d4d"/>
<rect x="261.78" y="230.0" width="2.36" height="17.5" fill="#1f957f"/>
<rect x="264.99" y="230.0" width="2.36" height="9.0" fill="#e53d4d"/>
<rect x="268.20" y="238.0" width="2.36" height="1.5" fill="#e53d4d"/>
<rect x="271.42" y="226.0" width="2.36" height="13.5" fill="#1f957f"/>
<rect x="274.63" y="200.0" width="2.36" height="26.5" fill="#1f957f"/>
<rect x="277.84" y="197.0" width="2.36" height="3.5" fill="#1f957f"/>
<rect x="281.05" y="196.5" width="2.36" height="3.5" fill="#e53d4d"/>
<rect x="284.26" y="183.0" width="2.36" height="17.0" fill="#1f957f"/>
<rect x="287.48" y="182.0" width="2.36" height="4.5" fill="#e53d4d"/>
<rect x="290.69" y="182.0" width="2.36" height="4.5" fill="#1f957f"/>
<rect x="293.90" y="181.0" width="2.36" height="8.0" fill="#e53d4d"/>
<rect x="297.11" y="180.5" width="2.36" height="8.5" fill="#1f957f"/>
<rect x="300.32" y="171.0" width="2.36" height="12.0" fill="#1f957f"/>
<rect x="303.54" y="136.5" width="2.36" height="35.0" fill="#1f957f"/>
<rect x="306.75" y="136.5" width="2.36" height="17.0" fill="#e53d4d"/>
<rect x="309.96" y="153.0" width="2.36" height="44.5" fill="#e53d4d"/>
<rect x="313.17" y="197.0" width="2.36" height="20.5" fill="#e53d4d"/>
<rect x="316.38" y="217.5" width="2.36" height="1.5" fill="#e53d4d"/>
<rect x="319.60" y="217.5" width="2.36" height="20.5" fill="#e53d4d"/>
<rect x="322.81" y="237.5" width="2.36" height="10.5" fill="#e53d4d"/>
<rect x="326.02" y="218.5" width="2.36" height="29.5" fill="#1f957f"/>
<rect x="329.23" y="218.5" width="2.36" height="3.5" fill="#e53d4d"/>
<rect x="332.44" y="222.0" width="2.36" height="2.5" fill="#e53d4d"/>
<rect x="335.66" y="223.5" width="2.36" height="1.5" fill="#e53d4d"/>
<rect x="338.87" y="224.5" width="2.36" height="3.5" fill="#e53d4d"/>
<rect x="342.08" y="225.0" width="2.36" height="4.0" fill="#1f957f"/>
<rect x="345.29" y="225.0" width="2.36" height="45.0" fill="#e53d4d"/>
<rect x="348.50" y="225.0" width="2.36" height="45.0" fill="#1f957f"/>
<rect x="351.72" y="202.0" width="2.36" height="23.0" fill="#1f957f"/>
<rect x="354.93" y="200.5" width="2.36" height="2.0" fill="#1f957f"/>
<rect x="358.14" y="199.5" width="2.36" height="2.0" fill="#1f957f"/>
<rect x="361.35" y="156.0" width="2.36" height="44.0" fill="#1f957f"/>
<rect x="364.56" y="156.5" width="2.36" height="16.5" fill="#e53d4d"/>
<rect x="367.78" y="162.5" width="2.36" height="10.5" fill="#1f957f"/>
<rect x="370.99" y="137.0" width="2.36" height="25.5" fill="#1f957f"/>
<rect x="374.20" y="118.0" width="2.36" height="20.5" fill="#1f957f"/>
<rect x="377.41" y="118.0" width="2.36" height="6.5" fill="#e53d4d"/>
<rect x="380.62" y="114.5" width="2.36" height="10.0" fill="#1f957f"/>
<rect x="383.84" y="114.5" width="2.36" height="2.0" fill="#e53d4d"/>
<rect x="387.05" y="116.5" width="2.36" height="32.5" fill="#e53d4d"/>
<rect x="390.26" y="75.5" width="2.36" height="73.5" fill="#1f957f"/>
<rect x="393.47" y="75.5" width="2.36" height="64.0" fill="#e53d4d"/>
<rect x="396.68" y="121.5" width="2.36" height="18.0" fill="#1f957f"/>
<rect x="399.90" y="96.5" width="2.36" height="26.0" fill="#1f957f"/>
<rect x="403.11" y="96.5" width="2.36" height="11.5" fill="#e53d4d"/>
<rect x="406.32" y="107.0" width="2.36" height="15.5" fill="#e53d4d"/>
<rect x="409.53" y="122.5" width="2.36" height="19.5" fill="#e53d4d"/>
<rect x="412.74" y="120.5" width="2.36" height="21.5" fill="#1f957f"/>
<rect x="415.96" y="104.0" width="2.36" height="17.0" fill="#1f957f"/>
<rect x="419.17" y="104.0" width="2.36" height="7.0" fill="#e53d4d"/>
<rect x="422.38" y="110.0" width="2.36" height="2.5" fill="#e53d4d"/>
<rect x="425.59" y="110.5" width="2.36" height="1.5" fill="#1f957f"/>
<rect x="428.80" y="110.5" width="2.36" height="1.5" fill="#1f957f"/>
<rect x="432.02" y="110.5" width="2.36" height="24.0" fill="#e53d4d"/>
<rect x="435.23" y="134.0" width="2.36" height="43.0" fill="#e53d4d"/>
<rect x="438.44" y="139.5" width="2.36" height="38.0" fill="#1f957f"/>
<rect x="441.65" y="132.0" width="2.36" height="8.0" fill="#1f957f"/>
<rect x="444.86" y="132.0" width="2.36" height="16.5" fill="#e53d4d"/>
<rect x="448.08" y="134.0" width="2.36" height="14.5" fill="#1f957f"/>
<rect x="451.29" y="121.0" width="2.36" height="13.5" fill="#1f957f"/>
<rect x="454.50" y="104.5" width="2.36" height="17.5" fill="#1f957f"/>
<rect x="457.71" y="104.0" width="2.36" height="7.0" fill="#e53d4d"/>
<rect x="460.92" y="110.5" width="2.36" height="1.5" fill="#e53d4d"/>
<rect x="464.14" y="112.0" width="2.36" height="24.0" fill="#e53d4d"/>
<rect x="467.35" y="134.5" width="2.36" height="6.5" fill="#e53d4d"/>
<rect x="470.56" y="140.0" width="2.36" height="16.0" fill="#e53d4d"/>
<rect x="473.77" y="156.0" width="2.36" height="19.5" fill="#e53d4d"/>
<rect x="476.98" y="175.0" width="2.36" height="14.0" fill="#e53d4d"/>
<rect x="480.20" y="189.0" width="2.36" height="28.0" fill="#e53d4d"/>
<rect x="483.41" y="146.0" width="2.36" height="71.0" fill="#1f957f"/>
<rect x="486.62" y="146.0" width="2.36" height="26.5" fill="#e53d4d"/>
<rect x="489.83" y="172.5" width="2.36" height="14.5" fill="#e53d4d"/>
<rect x="493.04" y="182.0" width="2.36" height="5.0" fill="#1f957f"/>
<rect x="496.26" y="182.0" width="2.36" height="19.0" fill="#e53d4d"/>
<rect x="499.47" y="173.5" width="2.36" height="27.5" fill="#1f957f"/>
<rect x="502.68" y="173.5" width="2.36" height="28.0" fill="#e53d4d"/>
<rect x="505.89" y="187.0" width="2.36" height="14.5" fill="#1f957f"/>
<rect x="509.10" y="187.0" width="2.36" height="14.0" fill="#e53d4d"/>
<rect x="512.32" y="201.0" width="2.36" height="5.5" fill="#e53d4d"/>
<rect x="515.53" y="201.5" width="2.36" height="5.0" fill="#1f957f"/>
<rect x="518.74" y="201.0" width="2.36" height="1.5" fill="#1f957f"/>
<rect x="521.95" y="201.0" width="2.36" height="1.5" fill="#e53d4d"/>
<rect x="525.16" y="188.5" width="2.36" height="13.0" fill="#1f957f"/>
<rect x="528.38" y="188.5" width="2.36" height="3.0" fill="#e53d4d"/>
<rect x="531.59" y="182.5" width="2.36" height="8.5" fill="#1f957f"/>
<rect x="534.80" y="183.0" width="2.36" height="27.0" fill="#e53d4d"/>
<rect x="538.01" y="206.0" width="2.36" height="4.0" fill="#1f957f"/>
<rect x="541.22" y="186.0" width="2.36" height="20.0" fill="#1f957f"/>
<rect x="544.44" y="185.5" width="2.36" height="23.5" fill="#e53d4d"/>
<rect x="547.65" y="200.5" width="2.36" height="8.5" fill="#1f957f"/>
<rect x="550.86" y="197.0" width="2.36" height="3.5" fill="#1f957f"/>
<rect x="554.07" y="191.0" width="2.36" height="6.5" fill="#1f957f"/>
<rect x="557.28" y="188.5" width="2.36" height="2.5" fill="#1f957f"/>
<rect x="560.50" y="188.0" width="2.36" height="1.5" fill="#e53d4d"/>
<rect x="563.71" y="189.0" width="2.36" height="3.5" fill="#e53d4d"/>
<rect x="566.92" y="192.0" width="2.36" height="14.0" fill="#e53d4d"/>
<rect x="570.13" y="205.5" width="2.36" height="2.5" fill="#e53d4d"/>
<rect x="573.34" y="206.5" width="2.36" height="4.5" fill="#e53d4d"/>
<rect x="576.56" y="209.5" width="2.36" height="2.5" fill="#e53d4d"/>
<rect x="579.77" y="211.4" width="2.36" height="1.2" fill="#1f957f"/>
<rect x="582.98" y="202.5" width="2.36" height="9.5" fill="#1f957f"/>
<rect x="586.19" y="200.0" width="2.36" height="3.0" fill="#1f957f"/>
<rect x="589.40" y="193.5" width="2.36" height="7.0" fill="#1f957f"/>
<rect x="592.62" y="180.5" width="2.36" height="13.5" fill="#1f957f"/>
<rect x="595.83" y="177.0" width="2.36" height="3.5" fill="#1f957f"/>
<rect x="599.04" y="177.0" width="2.36" height="29.0" fill="#e53d4d"/>
<rect x="602.25" y="200.5" width="2.36" height="5.5" fill="#1f957f"/>
<rect x="605.46" y="199.0" width="2.36" height="2.5" fill="#1f957f"/>
<rect x="608.68" y="200.5" width="2.36" height="5.5" fill="#e53d4d"/>
<rect x="611.89" y="204.5" width="2.36" height="2.0" fill="#1f957f"/>
<rect x="615.10" y="204.5" width="2.36" height="4.5" fill="#e53d4d"/>
<rect x="618.31" y="208.0" width="2.36" height="53.0" fill="#e53d4d"/>
<rect x="621.52" y="260.5" width="2.36" height="27.5" fill="#e53d4d"/>
<rect x="624.74" y="287.0" width="2.36" height="9.0" fill="#e53d4d"/>
<rect x="627.95" y="293.0" width="2.36" height="4.0" fill="#e53d4d"/>
<rect x="631.16" y="296.5" width="2.36" height="57.0" fill="#e53d4d"/>
<rect x="634.37" y="321.0" width="2.36" height="33.0" fill="#1f957f"/>
<rect x="637.58" y="320.0" width="2.36" height="26.5" fill="#e53d4d"/>
<rect x="640.80" y="346.5" width="2.36" height="56.5" fill="#e53d4d"/>
<rect x="644.01" y="350.5" width="2.36" height="52.5" fill="#1f957f"/>
<rect x="647.22" y="346.5" width="2.36" height="7.5" fill="#1f957f"/>
<rect x="650.43" y="328.5" width="2.36" height="19.0" fill="#1f957f"/>
<rect x="653.64" y="327.5" width="2.36" height="1.5" fill="#1f957f"/>
<rect x="656.86" y="227.0" width="2.36" height="101.5" fill="#1f957f"/>
<rect x="660.07" y="227.0" width="2.36" height="18.0" fill="#e53d4d"/>
<rect x="663.28" y="245.0" width="2.36" height="81.0" fill="#e53d4d"/>
<rect x="666.49" y="326.0" width="2.36" height="31.0" fill="#e53d4d"/>
<rect x="669.70" y="312.5" width="2.36" height="44.5" fill="#1f957f"/>
<rect x="672.92" y="280.5" width="2.36" height="32.0" fill="#1f957f"/>
<rect x="676.13" y="271.0" width="2.36" height="9.5" fill="#1f957f"/>
<rect x="679.34" y="262.0" width="2.36" height="14.0" fill="#1f957f"/>
<rect x="682.55" y="262.0" width="2.36" height="17.0" fill="#e53d4d"/>
<rect x="685.76" y="279.0" width="2.36" height="12.5" fill="#e53d4d"/>
<rect x="688.98" y="291.5" width="2.36" height="28.0" fill="#e53d4d"/>
<rect x="692.19" y="319.5" width="2.36" height="10.5" fill="#e53d4d"/>
<rect x="695.40" y="325.5" width="2.36" height="4.5" fill="#1f957f"/>
<rect x="698.61" y="325.5" width="2.36" height="15.5" fill="#e53d4d"/>
<rect x="701.82" y="341.0" width="2.36" height="58.0" fill="#e53d4d"/>
<rect x="705.04" y="361.0" width="2.36" height="38.0" fill="#1f957f"/>
<rect x="708.25" y="360.0" width="2.36" height="68.5" fill="#e53d4d"/>
<rect x="711.46" y="385.5" width="2.36" height="43.0" fill="#1f957f"/>
<rect x="714.67" y="368.5" width="2.36" height="17.0" fill="#1f957f"/>
<rect x="717.88" y="367.5" width="2.36" height="2.0" fill="#1f957f"/>
<rect x="721.10" y="358.5" width="2.36" height="10.0" fill="#1f957f"/>
<rect x="724.31" y="358.5" width="2.36" height="10.5" fill="#e53d4d"/>
<rect x="727.52" y="369.0" width="2.36" height="24.5" fill="#e53d4d"/>
<rect x="730.73" y="364.0" width="2.36" height="29.5" fill="#1f957f"/>
<rect x="733.94" y="355.0" width="2.36" height="9.5" fill="#1f957f"/>
<rect x="737.16" y="352.5" width="2.36" height="3.0" fill="#1f957f"/>
<rect x="740.37" y="349.5" width="2.36" height="3.0" fill="#1f957f"/>
<rect x="743.58" y="349.5" width="2.36" height="26.0" fill="#e53d4d"/>
<rect x="746.79" y="374.0" width="2.36" height="2.5" fill="#1f957f"/>
<rect x="750.00" y="360.5" width="2.36" height="13.5" fill="#1f957f"/>
<rect x="753.22" y="354.5" width="2.36" height="7.0" fill="#1f957f"/>
<rect x="756.43" y="354.5" width="2.36" height="18.0" fill="#e53d4d"/>
<rect x="759.64" y="372.0" width="2.36" height="2.0" fill="#1f957f"/>
<rect x="762.85" y="356.0" width="2.36" height="16.5" fill="#1f957f"/>
<rect x="766.06" y="316.5" width="2.36" height="40.5" fill="#1f957f"/>
<rect x="769.28" y="316.5" width="2.36" height="19.0" fill="#e53d4d"/>
<rect x="772.49" y="335.5" width="2.36" height="17.5" fill="#e53d4d"/>
<rect x="775.70" y="352.5" width="2.36" height="3.5" fill="#e53d4d"/>
<rect x="778.91" y="354.0" width="2.36" height="1.5" fill="#1f957f"/>
<rect x="782.12" y="350.5" width="2.36" height="3.5" fill="#1f957f"/>
<rect x="785.34" y="350.5" width="2.36" height="7.0" fill="#e53d4d"/>
<rect x="788.55" y="345.5" width="2.36" height="11.5" fill="#1f957f"/>
<rect x="791.76" y="327.5" width="2.36" height="18.5" fill="#1f957f"/>
<rect x="794.97" y="306.0" width="2.36" height="22.0" fill="#1f957f"/>
<rect x="798.18" y="306.0" width="2.36" height="3.0" fill="#e53d4d"/>
<rect x="801.40" y="307.5" width="2.36" height="4.0" fill="#e53d4d"/>
<rect x="804.61" y="310.0" width="2.36" height="1.5" fill="#1f957f"/>
<rect x="807.82" y="303.0" width="2.36" height="7.5" fill="#1f957f"/>
<rect x="811.03" y="303.0" width="2.36" height="13.5" fill="#e53d4d"/>
<rect x="814.24" y="315.0" width="2.36" height="2.5" fill="#1f957f"/>
<rect x="817.46" y="313.0" width="2.36" height="3.5" fill="#1f957f"/>
<rect x="820.67" y="313.0" width="2.36" height="25.5" fill="#e53d4d"/>
<rect x="823.88" y="338.0" width="2.36" height="12.0" fill="#e53d4d"/>
<rect x="827.09" y="349.0" width="2.36" height="28.0" fill="#e53d4d"/>
<rect x="830.30" y="372.5" width="2.36" height="5.5" fill="#1f957f"/>
<rect x="833.52" y="366.5" width="2.36" height="6.0" fill="#1f957f"/>
<rect x="836.73" y="366.5" width="2.36" height="10.0" fill="#e53d4d"/>
<rect x="839.94" y="376.5" width="2.36" height="2.5" fill="#e53d4d"/>
<rect x="843.15" y="374.0" width="2.36" height="4.5" fill="#1f957f"/>
<rect x="846.36" y="355.5" width="2.36" height="18.5" fill="#1f957f"/>
<rect x="849.58" y="338.5" width="2.36" height="17.0" fill="#1f957f"/>
<rect x="852.79" y="338.5" width="2.36" height="9.5" fill="#1f957f"/>
<rect x="856.00" y="347.0" width="2.36" height="28.0" fill="#e53d4d"/>
<rect x="859.21" y="366.5" width="2.36" height="9.0" fill="#1f957f"/>
<rect x="862.42" y="365.0" width="2.36" height="2.5" fill="#1f957f"/>
<rect x="865.64" y="365.0" width="2.36" height="7.5" fill="#e53d4d"/>
<rect x="868.85" y="356.0" width="2.36" height="16.5" fill="#1f957f"/>
<rect x="872.06" y="356.0" width="2.36" height="6.5" fill="#e53d4d"/>
<rect x="875.27" y="360.5" width="2.36" height="1.5" fill="#1f957f"/>
<rect x="878.48" y="361.0" width="2.36" height="9.5" fill="#e53d4d"/>
<rect x="881.70" y="370.5" width="2.36" height="60.0" fill="#e53d4d"/>
<rect x="884.91" y="430.5" width="2.36" height="25.5" fill="#e53d4d"/>
<rect x="888.12" y="420.0" width="2.36" height="36.0" fill="#1f957f"/>
<rect x="891.33" y="409.5" width="2.36" height="11.0" fill="#1f957f"/>
<rect x="894.54" y="410.0" width="2.36" height="51.5" fill="#e53d4d"/>
<rect x="897.76" y="460.4" width="2.36" height="1.2" fill="#e53d4d"/>
<rect x="900.97" y="372.5" width="2.36" height="89.5" fill="#1f957f"/>
<rect x="904.18" y="372.0" width="2.36" height="12.0" fill="#e53d4d"/>
<rect x="907.39" y="384.0" width="2.36" height="30.5" fill="#e53d4d"/>
<rect x="910.60" y="380.0" width="2.36" height="34.5" fill="#1f957f"/>
<rect x="913.82" y="361.5" width="2.36" height="19.0" fill="#1f957f"/>
<rect x="917.03" y="361.5" width="2.36" height="1.5" fill="#1f957f"/>
<rect x="920.24" y="337.0" width="2.36" height="24.5" fill="#1f957f"/>
<rect x="923.45" y="338.0" width="2.36" height="6.0" fill="#e53d4d"/>
<rect x="926.66" y="348.0" width="2.36" height="9.0" fill="#e53d4d"/>
</g>
</g>
<rect x="845.4" y="324.6" width="357.1" height="30.6" fill="#f23645" fill-opacity="0.235"/>
<!-- trend line -->
<line x1="358.8" y1="53.8" x2="1004.8" y2="375.6" stroke="#f28a96" stroke-width="1.4" stroke-linecap="round"/>
<!-- drawn projection -->
<path d="M882.7 421.9 C884.3 420.7 889.1 417.9 892.5 414.4 C895.9 410.9 901.0 405.8 903.8 400.0 C906.6 394.2 907.7 384.9 909.9 378.0 C912.1 371.1 915.4 362.1 917.4 356.8 C919.4 351.5 921.2 347.6 922.7 344.8 C924.2 342.0 925.2 340.5 926.5 339.5 C927.8 338.5 929.5 338.3 931.0 338.7 C932.5 339.1 933.9 339.0 935.6 341.7 C937.3 344.4 939.7 350.7 941.6 355.3 C943.5 359.9 945.5 364.7 947.7 370.5 C949.9 376.3 953.3 385.4 955.2 391.6 C957.1 397.8 958.2 402.9 959.7 409.0 C961.2 415.1 963.0 422.9 964.6 430.0 C966.2 437.1 967.9 444.2 969.5 453.6 C971.1 463.0 972.8 477.9 974.4 488.9 C976.0 499.9 977.7 512.9 979.3 522.3 C980.9 531.7 982.9 542.6 984.2 547.9 C985.5 553.2 986.3 555.2 987.2 555.7 C988.1 556.2 988.9 555.2 990.1 550.8 C991.3 546.4 993.0 536.8 995.0 528.2 C997.0 519.6 1000.5 505.9 1002.9 496.8 C1005.3 487.7 1007.8 478.5 1009.7 471.3 C1011.6 464.1 1013.3 455.7 1014.7 451.6 C1016.1 447.5 1017.1 446.0 1018.2 445.7 C1019.3 445.4 1020.5 446.4 1021.5 449.6 C1022.5 452.8 1023.7 459.1 1024.5 465.4 C1025.3 471.7 1025.6 480.4 1026.4 488.9 C1027.2 497.4 1028.5 510.2 1029.4 518.4 C1030.3 526.6 1031.2 535.0 1032.3 540.0 C1033.4 545.0 1035.0 548.9 1036.3 549.8 C1037.6 550.7 1039.1 547.9 1040.2 545.9 C1041.3 543.9 1042.2 539.6 1043.1 537.1 C1044.0 534.6 1045.3 529.7 1046.1 530.2 C1046.9 530.7 1047.3 537.0 1048.1 540.0 C1048.9 543.0 1050.1 548.6 1051.0 548.9 C1051.9 549.2 1052.8 545.3 1053.9 542.0 C1055.0 538.7 1056.9 530.7 1057.9 528.2 C1058.9 525.7 1059.5 525.4 1060.2 526.3 C1060.9 527.2 1061.6 531.7 1062.2 534.1 C1062.8 536.5 1063.5 541.3 1064.2 541.0 C1064.9 540.7 1066.0 534.6 1066.7 532.2 C1067.4 529.8 1068.1 526.3 1068.7 526.3 C1069.3 526.3 1069.8 530.3 1070.3 532.2 C1070.8 534.1 1071.2 538.4 1072.0 538.1 C1072.8 537.8 1074.5 532.2 1075.6 530.2 C1076.7 528.2 1078.2 525.3 1079.1 525.3 C1080.0 525.3 1080.7 527.5 1081.5 530.2 C1082.3 532.9 1083.3 539.2 1084.4 542.0 C1085.5 544.8 1087.0 546.8 1088.3 547.9 C1089.6 549.0 1090.9 549.2 1092.3 548.9 C1093.7 548.6 1095.5 547.9 1097.2 545.9 C1098.9 543.9 1101.2 540.5 1103.1 536.1 C1105.0 531.7 1107.3 523.7 1109.0 518.4 C1110.7 513.1 1112.5 506.9 1113.9 502.7 C1115.3 498.5 1117.2 493.6 1117.8 491.9" fill="none" stroke="#ea3a4d" stroke-width="1.6" stroke-linecap="round" stroke-linejoin="round"/>
<path d="M1107 497.2 L1117.8 491.9 L1123.7 502.3" fill="none" stroke="#ea3a4d" stroke-width="1.4" stroke-linecap="round" stroke-linejoin="round"/>
<!-- price axis -->
<g font-size="12.5" fill="#2a2e39" stroke="#2a2e39" stroke-width="0.15">
<text x="1210.6" y="60.9" textLength="57.6" lengthAdjust="spacingAndGlyphs">110,000.00</text>
<text x="1210.6" y="112.2" textLength="57.6" lengthAdjust="spacingAndGlyphs">105,000.00</text>
<text x="1210.6" y="155.0" textLength="57.6" lengthAdjust="spacingAndGlyphs">101,000.00</text>
<text x="1210.2" y="199.6" textLength="51.8" lengthAdjust="spacingAndGlyphs">97,000.00</text>
<text x="1210.2" y="246.0" textLength="51.8" lengthAdjust="spacingAndGlyphs">93,000.00</text>
<text x="1210.2" y="294.5" textLength="51.8" lengthAdjust="spacingAndGlyphs">89,000.00</text>
<text x="1210.2" y="345.2" textLength="51.8" lengthAdjust="spacingAndGlyphs">85,000.00</text>
<text x="1210.2" y="384.9" textLength="51.8" lengthAdjust="spacingAndGlyphs">82,000.00</text>
<text x="1210.2" y="426.0" textLength="51.8" lengthAdjust="spacingAndGlyphs">79,000.00</text>
<text x="1210.2" y="468.7" textLength="51.8" lengthAdjust="spacingAndGlyphs">76,000.00</text>
<text x="1210.2" y="498.1" textLength="51.8" lengthAdjust="spacingAndGlyphs">74,000.00</text>
<text x="1210.2" y="528.3" textLength="51.8" lengthAdjust="spacingAndGlyphs">72,000.00</text>
<text x="1210.2" y="559.3" textLength="51.8" lengthAdjust="spacingAndGlyphs">70,000.00</text>
<text x="1210.2" y="591.3" textLength="51.8" lengthAdjust="spacingAndGlyphs">68,000.00</text>
<text x="1210.2" y="620.9" textLength="51.8" lengthAdjust="spacingAndGlyphs">66,200.00</text>
</g>
<!-- price tags -->
<rect x="1154.9" y="348.9" width="47" height="16.5" fill="#f0384a"/>
<text x="1158.2" y="361.8" font-size="11.3" fill="#fff" stroke="#fff" stroke-width="0.3" textLength="39.6" lengthAdjust="spacingAndGlyphs">BTCUSD</text>
<rect x="1203.3" y="348.9" width="62.6" height="29.7" fill="#f0384a"/>
<text x="1210.2" y="361.8" font-size="12" fill="#fff" stroke="#fff" stroke-width="0.2" textLength="52" lengthAdjust="spacingAndGlyphs">83,798.65</text>
<text x="1210.2" y="374.5" font-size="11.5" fill="#fff" fill-opacity="0.88" textLength="45" lengthAdjust="spacingAndGlyphs">09:44:07</text>
<!-- time axis -->
<g font-size="12.5" fill="#2a2e39">
<text x="60.5" y="651.7" font-weight="400" textLength="18.8" lengthAdjust="spacingAndGlyphs">Dec</text>
<text x="256.2" y="651.7" font-weight="700" textLength="26.2" lengthAdjust="spacingAndGlyphs">2025</text>
<text x="459" y="651.7" font-weight="400" textLength="19.5" lengthAdjust="spacingAndGlyphs">Feb</text>
<text x="638.5" y="651.7" font-weight="400" textLength="19" lengthAdjust="spacingAndGlyphs">Mar</text>
<text x="838.5" y="651.7" font-weight="400" textLength="17.5" lengthAdjust="spacingAndGlyphs">Apr</text>
<text x="1030" y="651.7" font-weight="400" textLength="21" lengthAdjust="spacingAndGlyphs">May</text>
</g>
<!-- header -->
<circle cx="18" cy="14" r="7.4" fill="#f7931a"/>
<g transform="rotate(12 18 14)" fill-opacity="0.92"><text x="14.9" y="17.5" font-size="9.6" font-weight="700" fill="#fff">B</text>
<path d="M16.9 9.4 V10.9 M18.9 9.4 V10.9 M16.9 17.3 V18.8 M18.9 17.3 V18.8" stroke="#fff" stroke-width="0.9" stroke-opacity="0.9"/></g>
<g font-size="13.5" fill="#2a2e39" stroke="#2a2e39" stroke-width="0.3">
<text x="29.3" y="19.2" textLength="39.7" lengthAdjust="spacingAndGlyphs">Bitcoin</text>
<text x="74.5" y="19.2" textLength="4.5" lengthAdjust="spacingAndGlyphs">/</text>
<text x="85" y="19.2" textLength="23" lengthAdjust="spacingAndGlyphs">U.S.</text>
<text x="113.75" y="19.2" textLength="33.5" lengthAdjust="spacingAndGlyphs">Dollar</text>
<text x="151.6" y="19.2">·</text>
<text x="159.2" y="19.2" textLength="19.4" lengthAdjust="spacingAndGlyphs">12h</text>
<text x="182.6" y="19.2">·</text>
<text x="189.7" y="19.2" textLength="56.8" lengthAdjust="spacingAndGlyphs">COINBASE</text>
</g>
<circle cx="266.4" cy="13.7" r="6" fill="#d6f0eb"/>
<circle cx="266.4" cy="13.7" r="3" fill="#089981"/>
<g font-size="11.5" fill="#f0384a">
<text x="287" y="17.8" textLength="54.7" lengthAdjust="spacingAndGlyphs"><tspan fill="#2a2e39">O</tspan>84,509.34</text>
<text x="347.8" y="17.8" textLength="54.1" lengthAdjust="spacingAndGlyphs"><tspan fill="#2a2e39">H</tspan>84,673.29</text>
<text x="407.8" y="17.8" textLength="52.5" lengthAdjust="spacingAndGlyphs"><tspan fill="#2a2e39">L</tspan>83,443.33</text>
<text x="465.6" y="17.8" textLength="54.1" lengthAdjust="spacingAndGlyphs"><tspan fill="#2a2e39">C</tspan>83,798.65</text>
<text x="525.3" y="17.8" textLength="80.3" lengthAdjust="spacingAndGlyphs">−710.69 (−0.84%)</text>
</g>
<!-- USD -->
<rect x="1206.7" y="4.4" width="66.6" height="21" rx="3" fill="#fff" stroke="#f0f2f5" stroke-width="1"/>
<text x="1209.7" y="18.6" font-size="10" fill="#2a2e39" textLength="16.2" lengthAdjust="spacingAndGlyphs">USD</text>
<path d="M1265.6 13.9 L1267.8 15.9 L1270 13.9" fill="none" stroke="#2a2e39" stroke-width="1"/>
<!-- sell / buy -->
<rect x="10.1" y="27.6" width="65" height="27.4" rx="5" fill="#fff" stroke="#e8707d" stroke-width="1.2"/>
<text x="19.1" y="40.8" font-size="11" stroke="#e8505f" stroke-width="0.3" fill="#e8505f" textLength="46.8" lengthAdjust="spacingAndGlyphs">83,799.29</text>
<text x="32.3" y="51" font-size="8" fill="#e8404f" textLength="19.6" lengthAdjust="spacingAndGlyphs">SELL</text>
<text x="82.3" y="44" font-size="8" stroke="#2a2e39" stroke-width="0.25" fill="#2a2e39" textLength="14.9" lengthAdjust="spacingAndGlyphs">0.01</text>
<rect x="105.8" y="27.6" width="64.8" height="27.4" rx="5" fill="#fff" stroke="#6a8cea" stroke-width="1.2"/>
<text x="114.5" y="40.8" font-size="11" stroke="#4f76e4" stroke-width="0.3" fill="#4f76e4" textLength="47.3" lengthAdjust="spacingAndGlyphs">83,799.30</text>
<text x="129.4" y="51" font-size="8" fill="#3d6ae8" textLength="16.9" lengthAdjust="spacingAndGlyphs">BUY</text>
<!-- collapse -->
<rect x="8.7" y="61.7" width="24.9" height="15.6" rx="2.5" fill="#fff" stroke="#e3e5ea" stroke-width="1"/>
<path d="M13.7 68.3 L16.7 70.9 L19.7 68.3" fill="none" stroke="#2a2e39" stroke-width="1.3" stroke-linecap="round" stroke-linejoin="round"/>
<text x="24.5" y="72.9" font-size="11" fill="#2a2e39">6</text>
<!-- TV logo -->
<g fill="#131722">
<path d="M12.3 610.9 H22.3 V622.9 H17.6 V615.2 H12.3 Z"/>
<circle cx="26.4" cy="613.2" r="2.2"/>
<path d="M31.5 610.9 H36.8 L32.3 622.9 H27 Z"/>
</g>
<!-- settings -->
<path d="M1234.3 648.2 L1237.3 643 H1243.5 L1246.5 648.2 L1243.5 653.4 H1237.3 Z" fill="none" stroke="#4a4e59" stroke-width="1.15" stroke-linejoin="round"/>
<circle cx="1240.4" cy="648.2" r="1.7" fill="none" stroke="#4a4e59" stroke-width="1.1"/>
</g>
<!-- frame -->
<rect x="0" y="0" width="1280" height="1.2" fill="#ececee"/>
<rect x="0" y="0" width="2.6" height="662" fill="#ececee"/>
<rect x="1277.2" y="0" width="2.8" height="662" fill="#ececee"/>
<rect x="0" y="660.6" width="1280" height="1.4" fill="#ececee"/>
</svg>
</body></html>
